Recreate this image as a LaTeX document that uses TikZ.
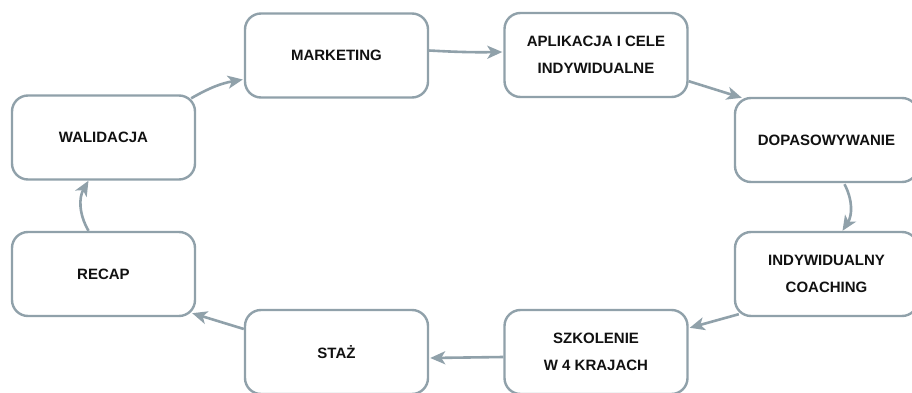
\documentclass[tikz,border=0pt]{standalone}
\usepackage{fontspec}
\setmainfont{Liberation Sans}
\usetikzlibrary{arrows.meta,calc}
\definecolor{edge}{HTML}{90A1AA}
\definecolor{ink}{HTML}{111111}
\begin{document}
\begin{tikzpicture}[x=1pt,y=-1pt,
  box/.style={draw=edge, line width=2.4pt, rounded corners=16pt, fill=white,
    minimum width=183pt, minimum height=84pt, inner sep=0pt, align=center,
    text=ink, font=\fontsize{15}{27}\selectfont\bfseries},
  conn/.style={draw=edge, line width=2.6pt,
    -{Stealth[length=15pt,width=13pt,inset=4pt]}}]
\useasboundingbox (0,0) rectangle (912,393);
\clip (0,0) rectangle (912,393);
\fill[white] (0,0) rectangle (912,393);
\node[box] (mark)  at (336.5,55.5) {MARKETING};
\node[box] (apl)   at (596,55)     {APLIKACJA I CELE\\INDYWIDUALNE};
\node[box] (dopas) at (826.5,140)  {DOPASOWYWANIE};
\node[box] (indyw) at (826.5,274)  {INDYWIDUALNY\\COACHING};
\node[box] (szkol) at (596,352)    {SZKOLENIE\\W 4 KRAJACH};
\node[box] (staz)  at (336.5,352)  {STAŻ};
\node[box] (recap) at (103.5,274)  {RECAP};
\node[box] (walid) at (103.5,137.5){WALIDACJA};
\draw[conn] ($(walid.north east)+(-5,4)$) to[bend left=10] ($(mark.west)+(-1,24)$);
\draw[conn] ($(mark.east)+(0,-5)$) to[bend right=2] ($(apl.west)+(-1,-3)$);
\draw[conn] ($(apl.south east)+(0,-17)$) -- ($(dopas.north west)+(8,1)$);
\draw[conn] ($(dopas.south)+(18,1)$) to[bend left=30] ($(indyw.north)+(16,0)$);
\draw[conn] ($(indyw.south west)+(5,-3)$) -- ($(szkol.north east)+(1,19)$);
\draw[conn] ($(szkol.west)+(0,5)$) -- ($(staz.east)+(1,6)$);
\draw[conn] ($(staz.west)+(0,-23)$) -- ($(recap.south east)+(-4,-4)$);
\draw[conn] ($(recap.north)+(-15,0)$) to[bend left=30] ($(walid.south)+(-15,0)$);
\end{tikzpicture}
\end{document}
